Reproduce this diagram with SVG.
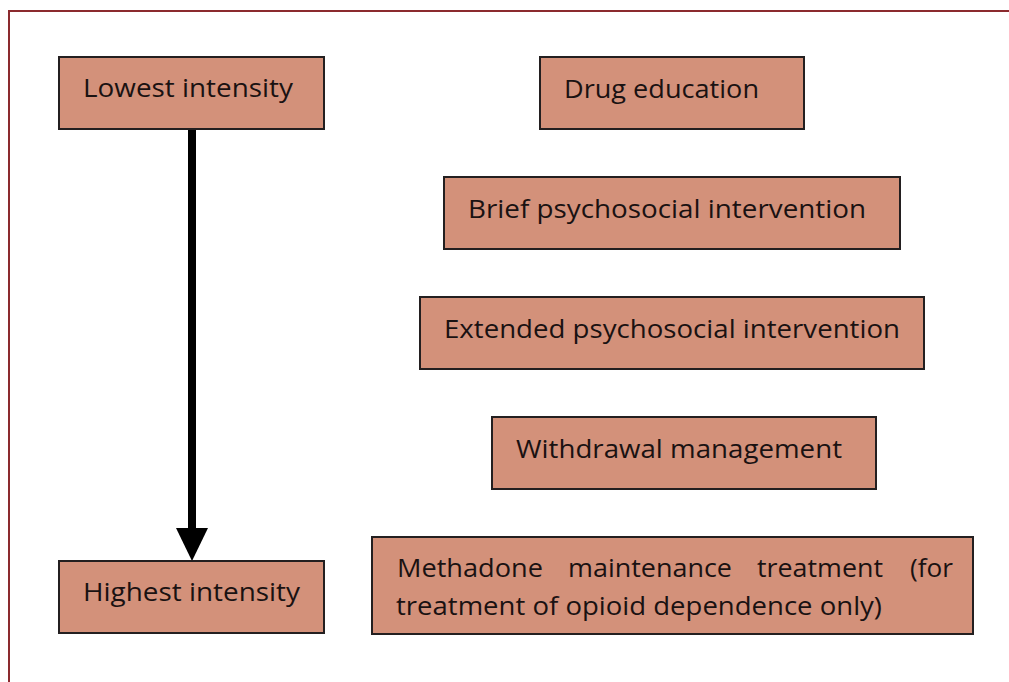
<svg xmlns="http://www.w3.org/2000/svg" width="1009" height="682" viewBox="0 0 1009 682">
<style>
.box{fill:#d3917a;stroke:#231f20;stroke-width:2}
.t{font-family:"Open Sans","Liberation Sans",sans-serif;font-size:26px;fill:#1a1212}
</style>
<rect x="0" y="0" width="1009" height="682" fill="#fff"/>
<path d="M9,682 V11 H1009" fill="none" stroke="#8b2a2e" stroke-width="2"/>
<g id="connectors">
<line x1="192" y1="129" x2="192" y2="530" stroke="#000" stroke-width="8"/>
<path d="M176,528 L208,528 L192,561 z" fill="#000"/>
</g>
<g id="lowest"><rect class="box" x="59" y="57" width="265" height="72"/><text class="t" x="83" y="97" textLength="210" lengthAdjust="spacingAndGlyphs">Lowest intensity</text></g>
<g id="highest"><rect class="box" x="59" y="561" width="265" height="72"/><text class="t" x="83" y="601" textLength="217" lengthAdjust="spacingAndGlyphs">Highest intensity</text></g>
<g id="drug"><rect class="box" x="540" y="57" width="264" height="72"/><text class="t" x="564" y="98" textLength="195" lengthAdjust="spacingAndGlyphs">Drug education</text></g>
<g id="brief"><rect class="box" x="444" y="177" width="456" height="72"/><text class="t" x="468" y="218" textLength="398" lengthAdjust="spacingAndGlyphs">Brief psychosocial intervention</text></g>
<g id="extended"><rect class="box" x="420" y="297" width="504" height="72"/><text class="t" x="444" y="338" textLength="456" lengthAdjust="spacingAndGlyphs">Extended psychosocial intervention</text></g>
<g id="withdrawal"><rect class="box" x="492" y="417" width="384" height="72"/><text class="t" x="516" y="458" textLength="326" lengthAdjust="spacingAndGlyphs">Withdrawal management</text></g>
<g id="methadone"><rect class="box" x="372" y="537" width="601" height="97"/>
<text class="t" x="397" y="577" textLength="146" lengthAdjust="spacingAndGlyphs">Methadone</text>
<text class="t" x="568" y="577" textLength="164" lengthAdjust="spacingAndGlyphs">maintenance</text>
<text class="t" x="757" y="577" textLength="126" lengthAdjust="spacingAndGlyphs">treatment</text>
<text class="t" x="910" y="577" textLength="43" lengthAdjust="spacingAndGlyphs">(for</text>
<text class="t" x="396" y="615" textLength="486" lengthAdjust="spacingAndGlyphs">treatment of opioid dependence only)</text></g>
</svg>
